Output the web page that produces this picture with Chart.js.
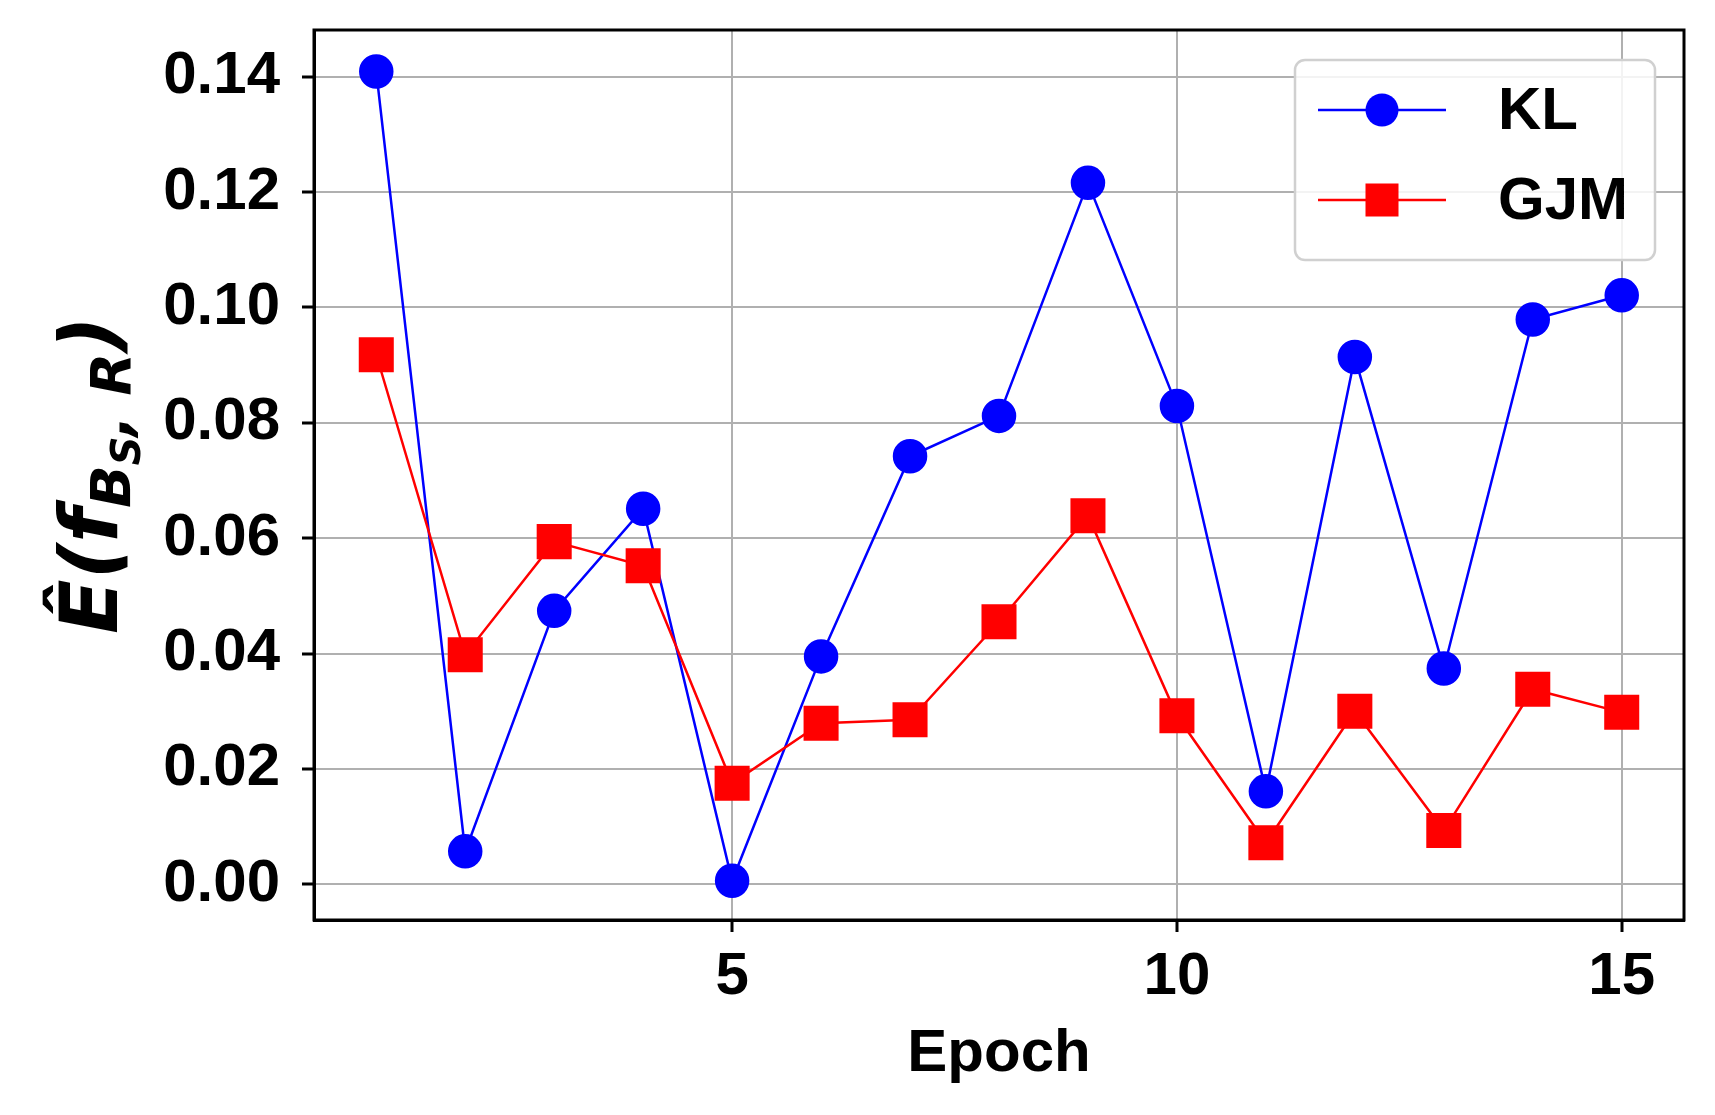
<!DOCTYPE html>
<html lang="en">
<head>
  <meta charset="UTF-8" />
  <title>KL vs GJM per epoch</title>
  <script src="https://cdn.jsdelivr.net/npm/chart.js"></script>
  <style>
    html, body { margin: 0; padding: 0; background: #fff; }
    #wrap { width: 1715px; height: 1115px; }
  </style>
</head>
<body>
  <div id="wrap"><canvas id="epochChart" width="1715" height="1115"></canvas></div>

  <script>
    // values
    const epochs = [1, 2, 3, 4, 5, 6, 7, 8, 9, 10, 11, 12, 13, 14, 15];
    const klValues = [0.1409, 0.0057, 0.0474, 0.0651, 0.0006, 0.0395, 0.0742, 0.0812,
                      0.1216, 0.0829, 0.0161, 0.0914, 0.0374, 0.0979, 0.1021];
    const gjmValues = [0.0918, 0.0398, 0.0594, 0.0552, 0.0175, 0.0279, 0.0285, 0.0455,
                       0.0639, 0.0292, 0.0072, 0.0300, 0.0093, 0.0338, 0.0298];
    const xTickValues = [5, 10, 15];
    const yTickValues = [0, 0.02, 0.04, 0.06, 0.08, 0.10, 0.12, 0.14];
    const seriesNames = ['KL', 'GJM'];

    const sans = '"Liberation Sans", Arial, sans-serif';

    // full box around the plot + matplotlib-like legend
    const frameAndLegend = {
      id: 'frameAndLegend',
      afterDatasetsDraw(chart) {
        const ctx = chart.ctx;
        const a = chart.chartArea;
        ctx.save();
        ctx.strokeStyle = '#000';
        ctx.lineWidth = 3;
        ctx.strokeRect(a.left, a.top, a.right - a.left, a.bottom - a.top);

        // legend box
        const bx = a.right - 389, by = a.top + 30, bw = 360, bh = 200, r = 10;
        ctx.beginPath();
        ctx.roundRect(bx, by, bw, bh, r);
        ctx.fillStyle = 'rgba(255,255,255,0.85)';
        ctx.fill();
        ctx.strokeStyle = '#d0d0d0';
        ctx.lineWidth = 2.5;
        ctx.stroke();

        chart.data.datasets.forEach((ds, i) => {
          const y = by + 50 + i * 90;
          const x0 = bx + 23, x1 = bx + 151, xm = (x0 + x1) / 2;
          ctx.strokeStyle = ds.borderColor;
          ctx.lineWidth = 2.5;
          ctx.beginPath();
          ctx.moveTo(x0, y);
          ctx.lineTo(x1, y);
          ctx.stroke();
          ctx.fillStyle = ds.borderColor;
          if (ds.pointStyle === 'rect') {
            ctx.fillRect(xm - 16.5, y - 16.5, 33, 33);
          } else {
            ctx.beginPath();
            ctx.arc(xm, y, 16.5, 0, Math.PI * 2);
            ctx.fill();
          }
          ctx.fillStyle = '#000';
          ctx.font = 'bold 60px ' + sans;
          ctx.textBaseline = 'middle';
          ctx.textAlign = 'left';
          ctx.fillText(ds.label, bx + 203, y + 2);
        });
        ctx.restore();
      }
    };

    // rotated math-style y label: Ê(f_{B_S, R})
    const yLabel = {
      id: 'yLabel',
      afterDraw(chart) {
        const ctx = chart.ctx;
        const a = chart.chartArea;
        const parts = [
          { t: 'Ê(', size: 80, dy: 0 },
          { t: 'f', size: 80, dy: 0 },
          { t: 'B', size: 56, dy: 13 },
          { t: 'S', size: 40, dy: 23 },
          { t: ', R', size: 56, dy: 13 },
          { t: ')', size: 80, dy: 0 }
        ];
        ctx.save();
        ctx.fillStyle = '#000';
        ctx.textBaseline = 'alphabetic';
        ctx.textAlign = 'left';
        let total = 0;
        parts.forEach(p => {
          ctx.font = 'italic bold ' + p.size + 'px "DejaVu Sans"';
          p.w = ctx.measureText(p.t).width;
          total += p.w;
        });
        ctx.translate(117, (a.top + a.bottom) / 2);
        ctx.rotate(-Math.PI / 2);
        let x = -total / 2;
        parts.forEach(p => {
          ctx.font = 'italic bold ' + p.size + 'px "DejaVu Sans"';
          ctx.fillText(p.t, x, p.dy);
          x += p.w;
        });
        ctx.restore();
      }
    };

    const ctx = document.getElementById('epochChart').getContext('2d');
    const chart = new Chart(ctx, {
      type: 'line',
      data: {
        datasets: [
          {
            label: seriesNames[0],
            data: epochs.map((e, i) => ({ x: e, y: klValues[i] })),
            borderColor: '#0000ff',
            backgroundColor: '#0000ff',
            pointBackgroundColor: '#0000ff',
            pointBorderColor: '#0000ff',
            pointStyle: 'circle',
            pointRadius: 16,
            borderWidth: 2.5,
            tension: 0,
            order: 1,
            clip: false
          },
          {
            label: seriesNames[1],
            data: epochs.map((e, i) => ({ x: e, y: gjmValues[i] })),
            borderColor: '#ff0000',
            backgroundColor: '#ff0000',
            pointBackgroundColor: '#ff0000',
            pointBorderColor: '#ff0000',
            pointStyle: 'rect',
            pointRadius: 23,
            borderWidth: 2.5,
            tension: 0,
            order: 0,
            clip: false
          }
        ]
      },
      options: {
        responsive: false,
        animation: false,
        layout: { padding: { top: 30, right: 31, left: 0, bottom: 0 } },
        plugins: {
          legend: { display: false },
          tooltip: { enabled: false }
        },
        scales: {
          x: {
            type: 'linear',
            min: 0.3,
            max: 15.7,
            afterBuildTicks: s => { s.ticks = xTickValues.map(v => ({ value: v })); },
            afterFit: s => { s.height = 195; },
            ticks: {
              color: '#000',
              padding: 15,
              maxRotation: 0,
              font: { family: sans, size: 60, weight: 'bold', lineHeight: 1 }
            },
            grid: { color: '#b0b0b0', lineWidth: 2, tickColor: '#000', tickWidth: 3, tickLength: 12 },
            border: { color: '#000', width: 3 },
            title: {
              display: true,
              text: 'Epoch',
              color: '#000',
              padding: { top: 0, bottom: 25 },
              font: { family: sans, size: 60, weight: 'bold' }
            }
          },
          y: {
            min: -0.0062,
            max: 0.1481,
            afterBuildTicks: s => { s.ticks = yTickValues.map(v => ({ value: v })); },
            afterFit: s => { s.width = 314; },
            ticks: {
              color: '#000',
              padding: 22,
              callback: v => v.toFixed(2),
              font: { family: sans, size: 60, weight: 'bold', lineHeight: 0.1 }
            },
            grid: { color: '#b0b0b0', lineWidth: 2, tickColor: '#000', tickWidth: 3, tickLength: 12 },
            border: { color: '#000', width: 3 }
          }
        }
      },
      plugins: [frameAndLegend, yLabel]
    });
  </script>
</body>
</html>
